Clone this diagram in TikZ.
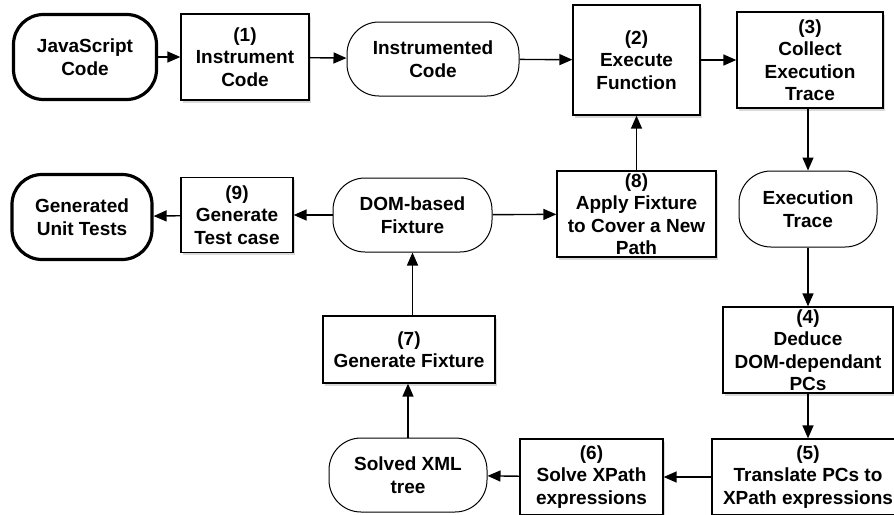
\documentclass[tikz,border=0pt]{standalone}
\usepackage{fontspec}
\setmainfont{Liberation Sans}
\usetikzlibrary{arrows.meta,shadows}
\tikzset{>={Triangle[length=13pt,width=11pt]}}
\tikzset{
  stepbox/.style={draw,line width=1.3pt,fill=white,align=center,inner sep=0pt,
    drop shadow={opacity=0.3,shadow xshift=1.5pt,shadow yshift=-2.5pt}},
  datanode/.style={draw,line width=1pt,rounded corners=32pt,align=center,inner sep=0pt},
  endnode/.style={datanode,line width=3.2pt,rounded corners=30pt},
  flow/.style={->,line width=1.4pt}
}

\begin{document}
\begin{tikzpicture}[x=1pt,y=-1pt,font=\fontsize{19}{22.5}\selectfont\bfseries]
    \path[use as bounding box,clip] (0,0) rectangle (894,514);

    % top row
    \node[endnode,minimum width=143pt,minimum height=85pt] at (85, 57) (js) {JavaScript\\Code};
    \node[stepbox,minimum width=128pt,minimum height=86pt] at (245, 57) (instr) {(1)\\Instrument\\Code};
    \node[datanode,minimum width=172pt,minimum height=74pt] at (433, 59) (icode) {Instrumented\\Code};
    \node[stepbox,minimum width=127pt,minimum height=110pt] at (636.5, 60) (exec) {(2)\\Execute\\Function};
    \node[stepbox,minimum width=146pt,minimum height=96pt] at (810, 60) (collect) {(3)\\Collect\\Execution\\Trace};

    % right column
    \node[datanode,minimum width=138pt,minimum height=76pt] at (808, 209) (trace) {Execution\\Trace};
    \node[stepbox,minimum width=170pt,minimum height=86pt] at (808, 350) (deduce) {(4)\\Deduce\\DOM-dependant\\PCs};
    \node[stepbox,minimum width=192pt,minimum height=76pt] at (808, 477) (transl) {(5)\\Translate PCs to\\XPath expressions};

    % bottom row
    \node[stepbox,minimum width=143pt,minimum height=76pt] at (591.5, 477) (solve) {(6)\\Solve XPath\\expressions};
    \node[datanode,minimum width=158pt,minimum height=74pt] at (408, 475) (xml) {Solved XML\\tree};
    \node[stepbox,minimum width=172pt,minimum height=67pt] at (409, 349.5) (genfix) {(7)\\Generate Fixture};

    % middle row
    \node[datanode,minimum width=159pt,minimum height=74pt] at (412.5, 215) (fixture) {DOM-based\\Fixture};
    \node[stepbox,minimum width=159pt,minimum height=86pt] at (636.5, 214) (apply) {(8)\\Apply Fixture\\to Cover a New\\Path};
    \node[stepbox,minimum width=112pt,minimum height=75pt] at (237, 215) (gentest) {(9)\\Generate\\Test case};
    \node[endnode,minimum width=140pt,minimum height=85pt] at (82, 217) (tests) {Generated\\Unit Tests};

    \draw[flow] (js)--(instr);
    \draw[flow] (instr)--(icode);
    \draw[flow] (icode)--(exec);
    \draw[flow] (exec)--(collect);
    \draw[flow] (collect.south -| trace.north)--(trace);
    \draw[flow] (trace)--(deduce);
    \draw[flow] (deduce)--(transl);
    \draw[flow] (transl)--(solve);
    \draw[flow] (solve)--(xml);
    \draw[flow] (xml.north)--(xml.north |- genfix.south);
    \draw[flow] (genfix.north -| fixture.south)--(fixture.south);
    \draw[flow] (fixture)--(gentest);
    \draw[flow] (gentest)--(tests);
    \draw[flow] (fixture)--(apply);
    \draw[flow] (apply)--(exec);
\end{tikzpicture}
\end{document}
